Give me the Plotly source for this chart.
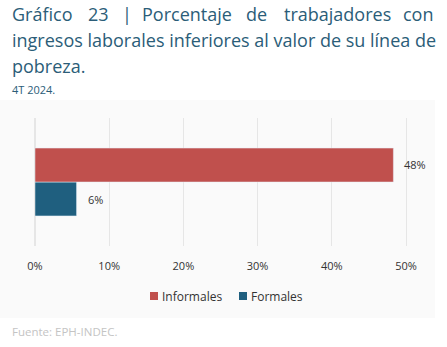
import plotly.graph_objects as go

categories = [""]
series_names = ["Informales", "Formales"]
informales = [48.3]
formales = [5.6]
labels_inf = ["48%"]
labels_for = ["6%"]
tick_vals = [0, 10, 20, 30, 40, 50]
tick_text = ["0%", "10%", "20%", "30%", "40%", "50%"]

title_line1 = ["Gráfico", "23", "|", "Porcentaje", "de", "trabajadores", "con"]
title_line2 = "ingresos laborales inferiores al valor de su línea de"
title_line3 = "pobreza."
subtitle = "4T 2024."
source = "Fuente: EPH-INDEC."

W, H = 447, 347
L, R, T, B = 35, 421, 118, 246
ML, MR, MT, MB = L, W - R, T, H - B

def px(x):
    return (x - L) / (R - L)

def py(y):
    return (B - y) / (B - T)

TEAL = "#2b5d78"
RED = "#c0504d"
BLUE = "#1f5f7f"
FONT = "Open Sans"
TSIZE = 18

fig = go.Figure()
fig.add_trace(go.Bar(y=categories, x=formales, orientation="h", name=series_names[1],
                     marker_color=BLUE, showlegend=False))
fig.add_trace(go.Bar(y=categories, x=informales, orientation="h", name=series_names[0],
                     marker_color=RED, showlegend=False))

annotations = []
# value labels
for val, lab, off in [(informales[0], labels_inf[0], 0.133), (formales[0], labels_for[0], -0.133)]:
    annotations.append(dict(x=val, y=off, xref="x", yref="y", text=lab, showarrow=False,
                            xanchor="left", xshift=9, font=dict(family=FONT, size=11, color="#333333")))

# title line 1 justified
word_x = [10, 86, 120, 140, 244, 282, 436]
for i, (w, xx) in enumerate(zip(title_line1, word_x)):
    annotations.append(dict(x=px(xx), y=py(14), xref="paper", yref="paper", text=w, showarrow=False,
                            xanchor="right" if i == len(title_line1) - 1 else "left", yanchor="middle",
                            font=dict(family=FONT, size=TSIZE, color=TEAL)))
annotations.append(dict(x=px(10), y=py(40), xref="paper", yref="paper", text=title_line2, showarrow=False,
                        xanchor="left", yanchor="middle", font=dict(family=FONT, size=TSIZE, color=TEAL)))
annotations.append(dict(x=px(10), y=py(66), xref="paper", yref="paper", text=title_line3, showarrow=False,
                        xanchor="left", yanchor="middle", font=dict(family=FONT, size=TSIZE, color=TEAL)))
annotations.append(dict(x=px(10), y=py(89), xref="paper", yref="paper", text=subtitle, showarrow=False,
                        xanchor="left", yanchor="middle", font=dict(family=FONT, size=11, color=TEAL)))
annotations.append(dict(x=px(10), y=py(331), xref="paper", yref="paper", text=source, showarrow=False,
                        xanchor="left", yanchor="middle", font=dict(family=FONT, size=11.5, color="#c4c4c4")))

# custom legend
legend_items = [(series_names[0], RED, 150), (series_names[1], BLUE, 239)]
shapes = [dict(type="rect", xref="paper", yref="paper", x0=px(0), x1=px(435), y0=py(318), y1=py(100),
               fillcolor="#fafafa", line=dict(width=0), layer="below")]
for name, col, lx in legend_items:
    shapes.append(dict(type="rect", xref="paper", yref="paper", x0=px(lx), x1=px(lx + 8),
                       y0=py(300), y1=py(292), fillcolor=col, line=dict(width=0)))
    annotations.append(dict(x=px(lx + 10), y=py(296), xref="paper", yref="paper", text=name,
                            showarrow=False, xanchor="left", yanchor="middle",
                            font=dict(family=FONT, size=12, color="#333333")))

fig.update_layout(
    width=W, height=H,
    margin=dict(l=ML, r=MR, t=MT, b=MB, pad=0),
    paper_bgcolor="white", plot_bgcolor="rgba(0,0,0,0)",
    barmode="group", bargap=0.47, bargroupgap=0,
    showlegend=False,
    xaxis=dict(range=[0, (R - L) / 7.42], tickvals=tick_vals, ticktext=tick_text,
               showgrid=True, gridcolor="#e6e6e6", gridwidth=1, zeroline=True, zerolinecolor="#e6e6e6",
               showline=False, ticks="", ticklabelstandoff=12,
               tickfont=dict(family=FONT, size=11, color="#333333"), fixedrange=True),
    yaxis=dict(showticklabels=False, showgrid=False, zeroline=False, showline=False, ticks="",
               range=[-0.5, 0.5]),
    annotations=annotations,
    shapes=shapes,
    font=dict(family=FONT),
)

fig.write_html("out.html")
